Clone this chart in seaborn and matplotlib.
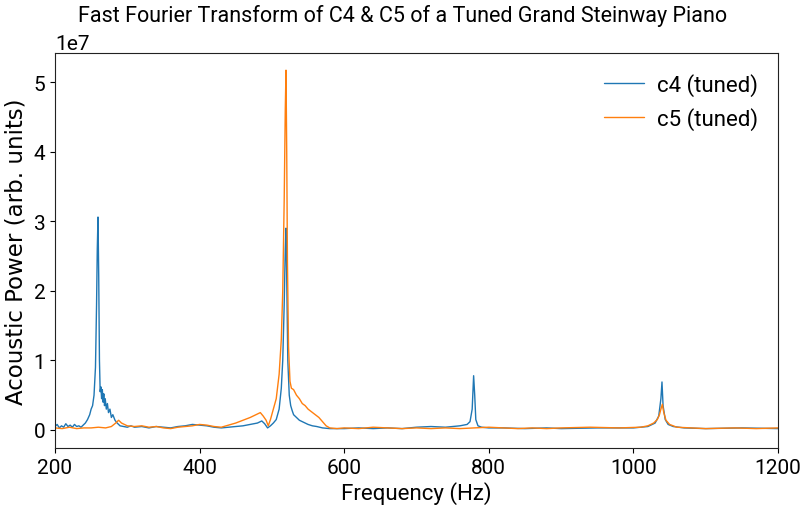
import matplotlib
matplotlib.use("Agg")
import matplotlib.pyplot as plt
import seaborn as sns
import pandas as pd

# ---- data (amplitudes in units of 1e7) ----
c4_freq = [200, 203, 206, 209, 212, 215, 218, 221, 224, 227, 230, 233, 236, 239, 242, 245, 248, 250, 252, 254,
           256, 257.5, 258.5, 259.5, 260.5, 261.5, 262.5, 263.5, 264.5, 265.5, 266.5, 267.5, 268.5, 269.5, 271,
           272.5, 274, 276, 278, 280, 283, 286, 290, 295, 300, 305, 310, 320, 330, 340, 350, 360, 370, 380, 390,
           400, 410, 420, 430, 440, 450, 460, 470, 480, 486, 490, 494, 498, 502, 506, 510, 513, 515, 517, 518.5,
           519.5, 520.5, 522, 524, 526, 528, 530, 534, 538, 542, 546, 550, 556, 562, 570, 580, 600, 620, 640, 660,
           680, 700, 720, 740, 760, 770, 774, 777, 779, 780.5, 782, 785, 790, 800, 820, 850, 880, 900, 950, 1000,
           1020, 1030, 1035, 1038, 1039.5, 1041, 1044, 1048, 1055, 1070, 1100, 1150, 1200]
c4_amp = [0.05, 0.08, 0.03, 0.06, 0.04, 0.09, 0.05, 0.07, 0.04, 0.08, 0.05, 0.06, 0.04, 0.07, 0.10, 0.15, 0.22,
          0.30, 0.35, 0.50, 0.90, 1.80, 2.60, 3.06, 2.20, 1.00, 0.55, 0.62, 0.45, 0.58, 0.40, 0.52, 0.35, 0.45,
          0.30, 0.38, 0.25, 0.30, 0.18, 0.22, 0.14, 0.10, 0.06, 0.05, 0.04, 0.06, 0.04, 0.05, 0.03, 0.05, 0.04,
          0.03, 0.05, 0.06, 0.08, 0.07, 0.06, 0.04, 0.03, 0.04, 0.05, 0.06, 0.08, 0.10, 0.13, 0.09, 0.03, 0.06,
          0.10, 0.15, 0.30, 0.60, 1.00, 1.80, 2.60, 2.90, 2.20, 1.00, 0.50, 0.35, 0.28, 0.22, 0.18, 0.14, 0.12,
          0.10, 0.08, 0.06, 0.05, 0.03, 0.02, 0.02, 0.03, 0.02, 0.03, 0.02, 0.04, 0.05, 0.04, 0.06, 0.08, 0.12,
          0.30, 0.78, 0.50, 0.15, 0.06, 0.04, 0.03, 0.03, 0.02, 0.03, 0.02, 0.03, 0.03, 0.05, 0.10, 0.20, 0.45,
          0.69, 0.35, 0.15, 0.08, 0.05, 0.03, 0.02, 0.03, 0.02]

c5_freq = [200, 210, 220, 230, 240, 250, 260, 270, 278, 284, 288, 292, 296, 300, 310, 320, 330, 340, 350, 360,
           370, 380, 390, 400, 410, 420, 430, 440, 450, 460, 470, 478, 484, 488, 492, 495, 498, 502, 506, 510,
           513, 515, 517, 518.5, 519.5, 520.5, 521.5, 523, 525, 527, 530, 534, 538, 542, 546, 550, 555, 560, 565,
           570, 575, 580, 590, 600, 620, 640, 660, 680, 700, 720, 740, 760, 780, 800, 820, 840, 860, 880, 900,
           940, 980, 1010, 1020, 1028, 1033, 1036, 1038, 1040, 1042, 1045, 1050, 1060, 1080, 1100, 1140, 1170,
           1200]
c5_amp = [0.03, 0.02, 0.04, 0.02, 0.03, 0.03, 0.04, 0.03, 0.05, 0.10, 0.14, 0.10, 0.08, 0.06, 0.05, 0.06, 0.04,
          0.05, 0.03, 0.02, 0.04, 0.05, 0.06, 0.08, 0.07, 0.05, 0.04, 0.07, 0.10, 0.14, 0.18, 0.22, 0.25, 0.20,
          0.14, 0.06, 0.15, 0.30, 0.45, 0.80, 1.30, 2.00, 3.30, 4.60, 5.17, 4.00, 2.40, 1.20, 0.70, 0.60, 0.58,
          0.50, 0.45, 0.38, 0.35, 0.30, 0.26, 0.22, 0.18, 0.12, 0.06, 0.03, 0.02, 0.03, 0.02, 0.04, 0.03, 0.02,
          0.03, 0.02, 0.03, 0.02, 0.03, 0.04, 0.03, 0.02, 0.03, 0.02, 0.03, 0.04, 0.03, 0.04, 0.06, 0.10, 0.15,
          0.22, 0.30, 0.37, 0.25, 0.14, 0.08, 0.04, 0.03, 0.02, 0.03, 0.02, 0.03]

series_labels = ["c4 (tuned)", "c5 (tuned)"]
x_ticks = [200, 400, 600, 800, 1000, 1200]
y_ticks = [0, 1, 2, 3, 4, 5]
scale = 1e7

sns.set_style("ticks", {"text.color": "black", "axes.labelcolor": "black",
                        "xtick.color": "black", "ytick.color": "black",
                        "axes.edgecolor": "#222222"})
plt.rcParams["font.family"] = ["Roboto", "DejaVu Sans"]

df4 = pd.DataFrame({"freq": c4_freq, "amp": [v * scale for v in c4_amp]})
df5 = pd.DataFrame({"freq": c5_freq, "amp": [v * scale for v in c5_amp]})

fig = plt.figure(figsize=(8.05, 5.06), dpi=100)
ax = fig.add_axes([0.0683, 0.1126, 0.8982, 0.7807])

sns.lineplot(data=df4, x="freq", y="amp", ax=ax, color="#1f77b4", linewidth=1.0,
             label=series_labels[0], estimator=None, sort=False)
sns.lineplot(data=df5, x="freq", y="amp", ax=ax, color="#ff7f0e", linewidth=1.0,
             label=series_labels[1], estimator=None, sort=False)

ax.set_xlim(200, 1200)
ax.set_ylim(-0.259e7, 5.417e7)
ax.set_xticks(x_ticks)
ax.set_yticks([t * scale for t in y_ticks])
ax.tick_params(labelsize=15, length=3.5, width=0.8)
ax.yaxis.get_offset_text().set_fontsize(15)
for s in ax.spines.values():
    s.set_linewidth(0.8)

ax.set_xlabel("Frequency (Hz)", fontsize=16, labelpad=3)
ax.set_ylabel("Acoustic Power (arb. units)", fontsize=16.5, family="DejaVu Sans")
fig.suptitle("Fast Fourier Transform of C4 & C5 of a Tuned Grand Steinway Piano", fontsize=15.5, y=0.99)

leg = ax.legend(loc="upper right", frameon=False, fontsize=16, handlelength=1.8, handletextpad=0.6)

fig.savefig("out.png", dpi=100)
